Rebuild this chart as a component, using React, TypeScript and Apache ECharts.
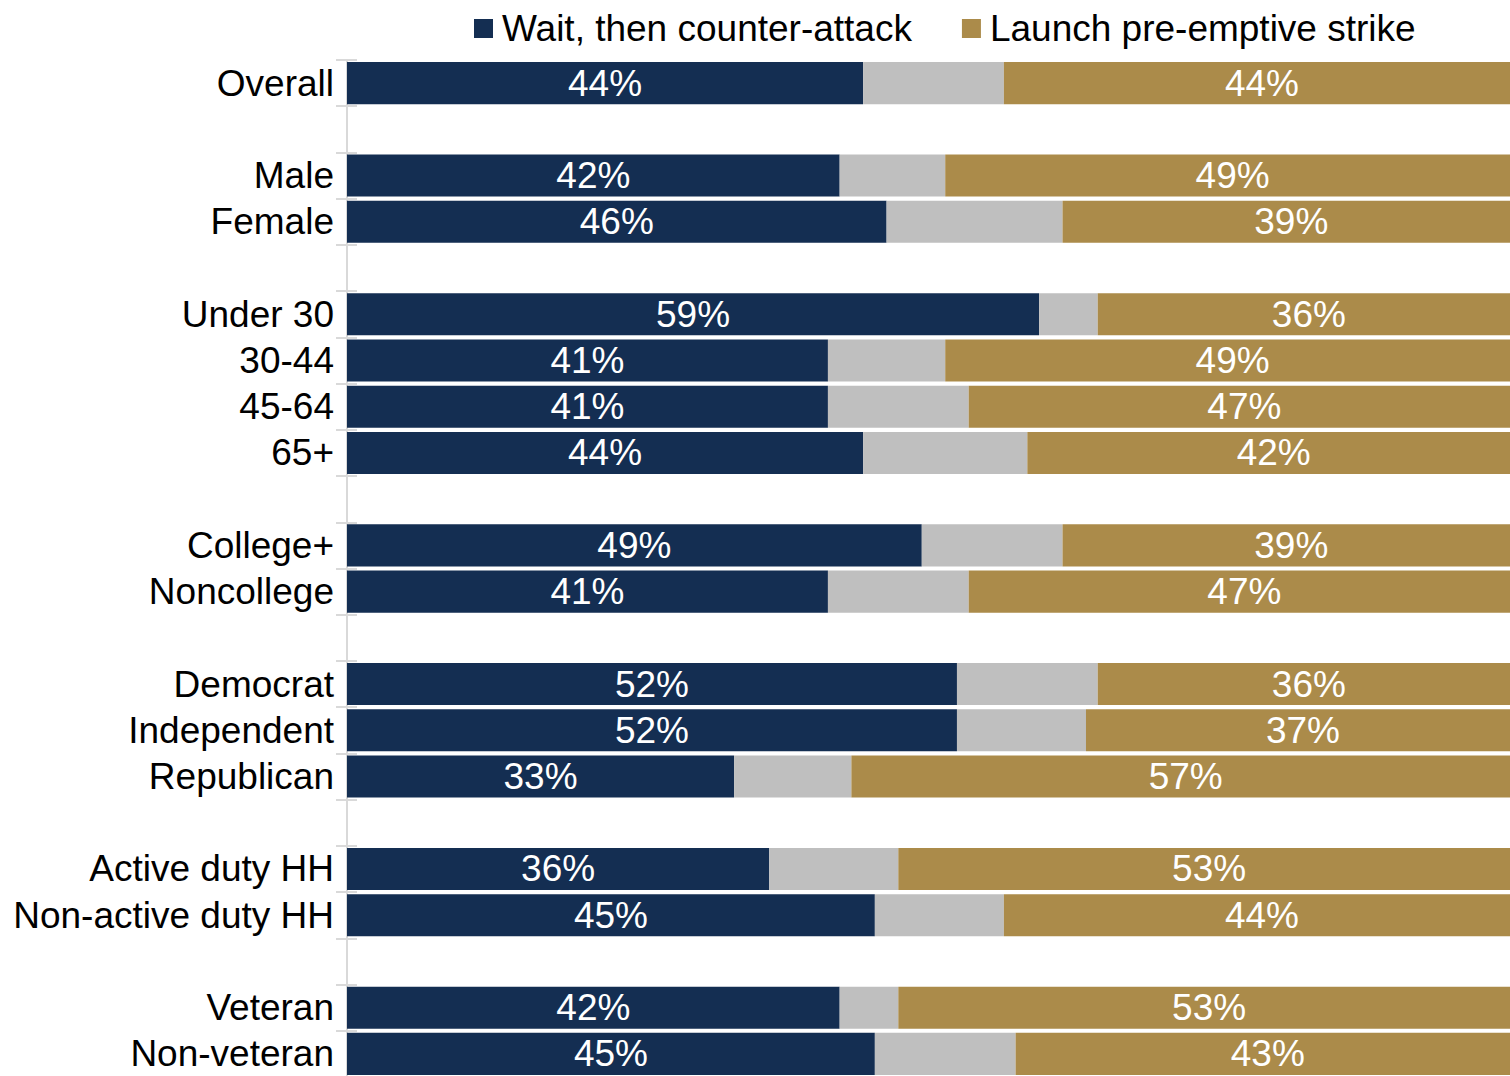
import React, { useEffect, useRef } from "react";
import * as echarts from "echarts";

const categories = [
  "Overall", " ",
  "Male", "Female", "  ",
  "Under 30", "30-44", "45-64", "65+", "   ",
  "College+", "Noncollege", "    ",
  "Democrat", "Independent", "Republican", "     ",
  "Active duty HH", "Non-active duty HH", "      ",
  "Veteran", "Non-veteran",
];

const waitValues = [44, null, 42, 46, null, 59, 41, 41, 44, null, 49, 41, null, 52, 52, 33, null, 36, 45, null, 42, 45];
const otherValues = [12, null, 9, 15, null, 5, 10, 12, 14, null, 12, 12, null, 12, 11, 10, null, 11, 11, null, 5, 12];
const launchValues = [44, null, 49, 39, null, 36, 49, 47, 42, null, 39, 47, null, 36, 37, 57, null, 53, 44, null, 53, 43];

const NAVY = "#142E52";
const GRAY = "#BFBFBF";
const GOLD = "#AB8B4A";
const FONT = "'Liberation Sans', Arial, sans-serif";

export default function App() {
  const ref = useRef<HTMLDivElement>(null);
  useEffect(() => {
    if (!ref.current) return;
    const chart = echarts.init(ref.current, undefined, { renderer: "svg" });
    const labelStyle = {
      show: true,
      position: "inside" as const,
      color: "#FFFFFF",
      fontSize: 37,
      fontFamily: FONT,
      formatter: "{c}%",
    };
    chart.setOption({
      animation: false,
      textStyle: { fontFamily: FONT },
      legend: {
        data: ["Wait, then counter-attack", "Launch pre-emptive strike"],
        left: 469,
        top: 5,
        icon: "rect",
        itemWidth: 19,
        itemHeight: 19,
        itemGap: 50,
        textStyle: { fontSize: 37, color: "#000", fontFamily: FONT, lineHeight: 37, padding: [0, 0, 0, 4] },
      },
      grid: {
        left: 347,
        top: 60,
        width: 1173,
        height: 1017,
        containLabel: false,
        outerBoundsMode: "none",
      },
      xAxis: {
        type: "value",
        min: 0,
        max: 100,
        show: false,
      },
      yAxis: [
        {
          type: "category",
          data: categories,
          inverse: true,
          axisLine: { show: true, lineStyle: { color: "#D9D9D9", width: 2 } },
          axisTick: { show: true, length: 11, interval: 0, lineStyle: { color: "#D9D9D9", width: 2 } },
          axisLabel: { color: "#000", fontSize: 37, fontFamily: FONT, margin: 13, interval: 0 },
          splitLine: { show: false },
        },
        {
          type: "category",
          data: categories,
          inverse: true,
          position: "left",
          axisLine: { show: false },
          axisTick: { show: true, inside: true, length: 10, interval: 0, lineStyle: { color: "#D9D9D9", width: 2 } },
          axisLabel: { show: false },
          splitLine: { show: false },
        },
      ],
      series: [
        {
          name: "Wait, then counter-attack",
          type: "bar",
          stack: "total",
          data: waitValues,
          barCategoryGap: "9%",
          itemStyle: { color: NAVY },
          label: labelStyle,
        },
        {
          name: "Other",
          type: "bar",
          stack: "total",
          data: otherValues,
          barCategoryGap: "9%",
          itemStyle: { color: GRAY },
          label: { show: false },
        },
        {
          name: "Launch pre-emptive strike",
          type: "bar",
          stack: "total",
          data: launchValues,
          barCategoryGap: "9%",
          itemStyle: { color: GOLD },
          label: labelStyle,
        },
      ],
    });
    return () => chart.dispose();
  }, []);
  return (
    <div
      ref={ref}
      style={{ position: "absolute", left: 0, top: 0, width: 1510, height: 1076, background: "#fff" }}
    />
  );
}
